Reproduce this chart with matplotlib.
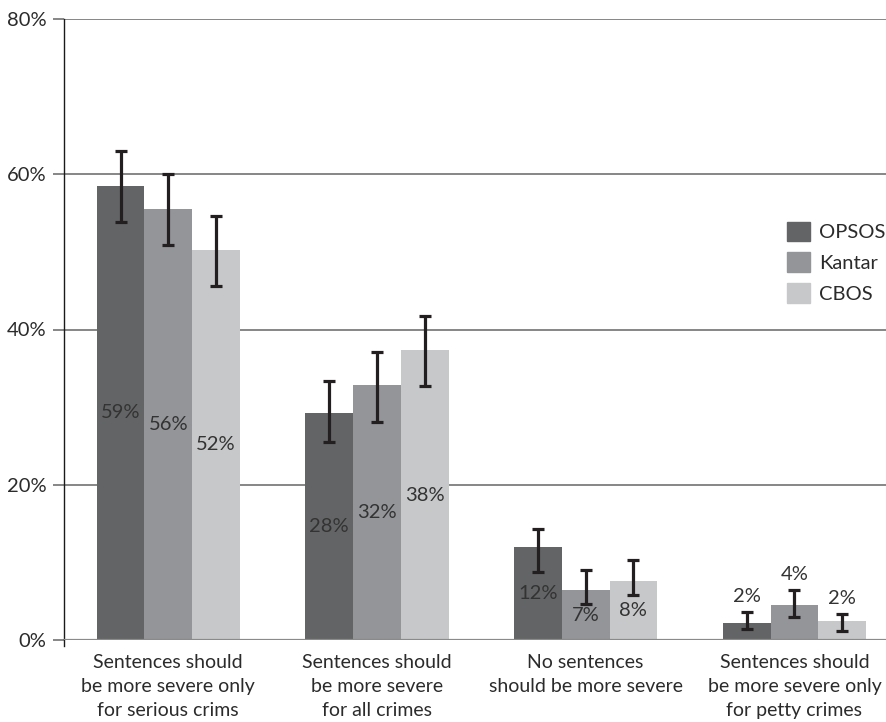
import matplotlib
matplotlib.use("Agg")
import matplotlib.pyplot as plt
import matplotlib.patches as mpatches
import numpy as np

# --- Data ---------------------------------------------------------------------
categories = [
    "Sentences should\nbe more severe only\nfor serious crims",
    "Sentences should\nbe more severe\nfor all crimes",
    "No sentences\nshould be more severe",
    "Sentences should\nbe more severe only\nfor petty crimes",
]
series = ["OPSOS", "Kantar", "CBOS"]

opsos = [58.5, 29.3, 12.0, 2.2]
opsos_lo = [53.9, 25.5, 8.7, 1.4]
opsos_hi = [63.0, 33.4, 14.3, 3.6]
opsos_labels = ["59%", "28%", "12%", "2%"]

kantar = [55.5, 32.9, 6.4, 4.5]
kantar_lo = [50.9, 28.1, 4.6, 2.9]
kantar_hi = [60.0, 37.1, 9.0, 6.5]
kantar_labels = ["56%", "32%", "7%", "4%"]

cbos = [50.3, 37.3, 7.6, 2.4]
cbos_lo = [45.6, 32.7, 5.8, 1.2]
cbos_hi = [54.6, 41.8, 10.3, 3.4]
cbos_labels = ["52%", "38%", "8%", "2%"]

yticks = [0, 20, 40, 60, 80]

# --- Style --------------------------------------------------------------------
colors = ["#636466", "#939598", "#c7c8ca"]
TEXT = "#2b2b2b"
GRID = "#666666"
FONT = "Lato"
FS = 14.5

plt.rcParams["font.family"] = [FONT, "DejaVu Sans"]

W, H = 886, 722
fig = plt.figure(figsize=(W / 100, H / 100), dpi=100)
ax = fig.add_axes([64.3 / W, 1 - 640 / H, 1 - 64.3 / W, (640 - 19) / H])

x = np.arange(len(categories))
bw = 0.2286
offsets = [-bw, 0, bw]

groups = [
    (opsos, opsos_lo, opsos_hi, opsos_labels),
    (kantar, kantar_lo, kantar_hi, kantar_labels),
    (cbos, cbos_lo, cbos_hi, cbos_labels),
]

for (vals, lo, hi, labs), off, col, name in zip(groups, offsets, colors, series):
    vals = np.array(vals)
    lo = np.array(lo)
    hi = np.array(hi)
    xs = x + off
    ax.bar(xs, vals, width=bw, color=col, edgecolor="none", zorder=2, label=name)
    ax.errorbar(xs, vals, yerr=[vals - lo, hi - vals], fmt="none",
                ecolor="#231f20", elinewidth=2.3, capsize=4.5, capthick=2.3, zorder=4)
    for xi, v, h, lab in zip(xs, vals, hi, labs):
        if v >= 5:
            ax.text(xi, v / 2, lab, ha="center", va="center", fontsize=FS,
                    color="#333333", zorder=5)
        else:
            ax.annotate(lab, (xi, h), xytext=(0, 11), textcoords="offset points",
                        ha="center", va="center", fontsize=FS, color="#333333", zorder=5)

# --- Axes ---------------------------------------------------------------------
ax.set_xlim(-0.498, 3.439)
ax.set_ylim(0, 80)
ax.set_yticks(yticks)
ax.set_yticklabels([f"{t}%" for t in yticks], fontsize=FS, color=TEXT)
ax.yaxis.grid(True, color=GRID, linewidth=1.1, zorder=0)
ax.set_axisbelow(True)
ax.tick_params(axis="y", length=8, width=1.1, color=GRID, pad=5)

ax.set_xticks(x)
ax.set_xticklabels(categories, fontsize=14, color=TEXT, linespacing=1.5)
ax.tick_params(axis="x", length=0, pad=10)

for s in ["top", "right", "bottom"]:
    ax.spines[s].set_visible(False)
ax.spines["left"].set_color("#1a1a1a")
ax.spines["left"].set_linewidth(1.0)
ax.spines["left"].set_bounds(-0.8, 80)

ax.axhline(0, color="#8a8a8a", linewidth=1.6, zorder=3)

# --- Legend -------------------------------------------------------------------
handles = [mpatches.Patch(color=c, label=n) for c, n in zip(colors, series)]
fig.legend(handles=handles, loc="upper left",
           bbox_to_anchor=(786.7 / W, 1 - 221.5 / H), bbox_transform=fig.transFigure,
           frameon=False, fontsize=FS, borderpad=0, borderaxespad=0,
           handlelength=1.14, handleheight=1.14, handletextpad=0.45,
           labelspacing=0.54, labelcolor=TEXT)

fig.savefig("out.png", dpi=100)
